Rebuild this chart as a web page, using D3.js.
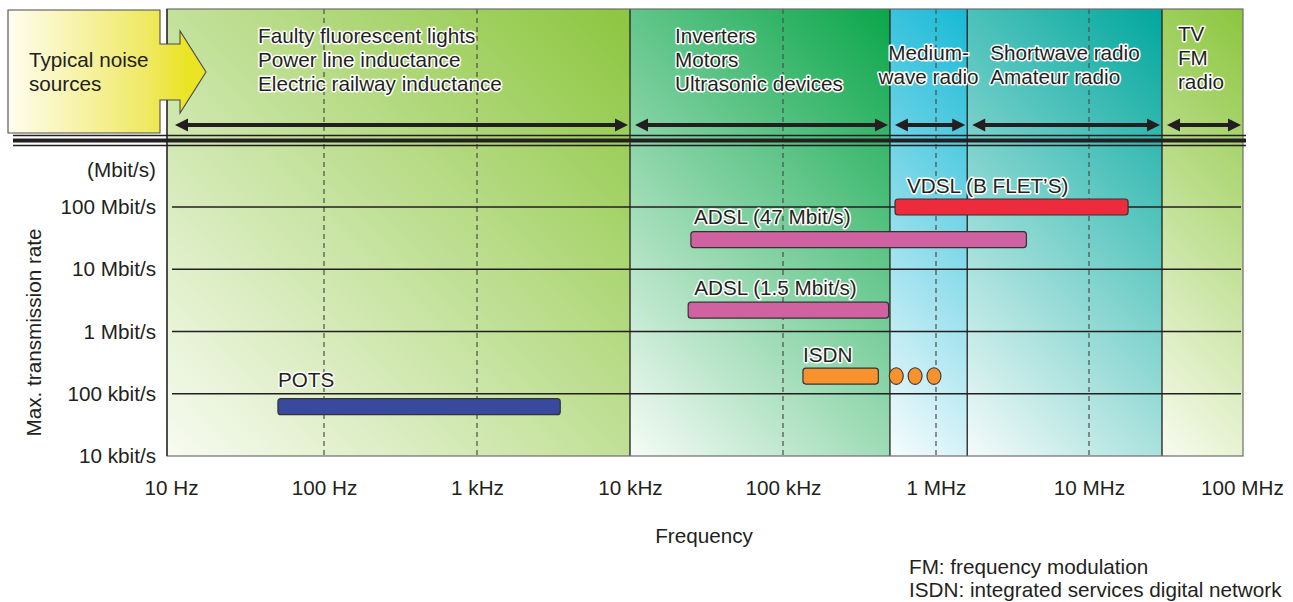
<!DOCTYPE html>
<html lang="en">
<head>
<meta charset="UTF-8">
<title>Noise sources and transmission rates</title>
<script src="https://cdnjs.cloudflare.com/ajax/libs/d3/7.8.5/d3.min.js"></script>
<style>
body{margin:0;background:#fff}
svg text{font-family:"Liberation Sans",Arial,Helvetica,sans-serif;font-size:20.7px;fill:#231f20}
.halo{stroke:#fff;stroke-width:3px;stroke-linejoin:round;paint-order:stroke}
</style>
</head>
<body>
<div id="root"></div>
<script>
// noise bands (Hz) and what lives in them
let bandEdges = [10, 1e4, 5e5, 1.6e6, 3e7, 1e8]
let bandLabels = [
    ["Faulty fluorescent lights", "Power line inductance", "Electric railway inductance"],
    ["Inverters", "Motors", "Ultrasonic devices"],
    ["Medium-", "wave radio"],
    ["Shortwave radio", "Amateur radio"],
    ["TV", "FM", "radio"]
]

// transmission systems: frequency span (Hz) and max rate (bit/s)
let sysNames = ["POTS", "ISDN", "ADSL (1.5 Mbit/s)", "ADSL (47 Mbit/s)", "VDSL (B FLET\u2019S)"]
let sysFreqFrom = [50, 1.35e5, 2.4e4, 2.5e4, 5.4e5]
let sysFreqTo = [3.5e3, 4.2e5, 4.9e5, 3.9e6, 1.8e7]
let sysRate = [6.2e4, 1.92e5, 2.2e6, 3.0e7, 1e8]
let isdnDots = [5.5e5, 7.3e5, 9.7e5]

let freqTicks = [10, 100, 1e3, 1e4, 1e5, 1e6, 1e7, 1e8]
let freqTickLabels = ["10 Hz", "100 Hz", "1 kHz", "10 kHz", "100 kHz", "1 MHz", "10 MHz", "100 MHz"]
let rateTicks = [1e4, 1e5, 1e6, 1e7, 1e8]
let rateTickLabels = ["10 kbit/s", "100 kbit/s", "1 Mbit/s", "10 Mbit/s", "100 Mbit/s"]
let dashedFreqs = [100, 1e3, 1e5, 1e6, 1e7]

// styles / layout
let bandTop = ["#8cc63f", "#0aa64a", "#17b9d6", "#00a79d", "#8cc63f"]
let bandBottom = ["#f8fbf2", "#f6fbf6", "#f7fcfd", "#f5fbfa", "#f8fbef"]
let sysColors = ["#394a9e", "#f7922f", "#d062a2", "#d062a2", "#ee2b3d"]
let sysLabelDx = [0, 0, 6, 3, 12], sysLabelDy = [-12, -6, -7, -8, -6]
let bandTextDx = [91, 45, null, 23, 16], bandTextY = [43, 43, 60, 60, 41]
let ink = "#231f20"

let width = 1293, height = 602, plotTop = 9, plotBottom = 456, barH = 16
let svg = d3.select("#root").append("svg").attr("width", width).attr("height", height)

let x = d3.scaleLog().domain([10, 1e8]).range([171, 1242])
let y = d3.scaleLog().domain([1e4, 1e8]).range([plotBottom, 207])
let plotLeft = x(10) - 4, plotRight = x(1e8) + 1
let bx = function (i) { return i == 0 ? plotLeft : (i == bandEdges.length - 1 ? plotRight : x(bandEdges[i])) }

// 45 degree gradients, pale at bottom-left, saturated at top-right
let defs = svg.append("defs")
bandTop.forEach(function (c, i) {
    let x0 = bx(i), s = (bx(i + 1) - x0 + plotBottom - plotTop) / 2
    let g = defs.append("linearGradient").attr("id", "band" + i).attr("gradientUnits", "userSpaceOnUse")
        .attr("x1", x0).attr("y1", plotBottom).attr("x2", x0 + s).attr("y2", plotBottom - s)
    g.append("stop").attr("offset", 0).attr("stop-color", bandBottom[i])
    g.append("stop").attr("offset", 1).attr("stop-color", c)
})
let sg = defs.append("linearGradient").attr("id", "srcGrad")
sg.append("stop").attr("offset", 0).attr("stop-color", "#fffdf0")
sg.append("stop").attr("offset", 0.7).attr("stop-color", "#efe964")
sg.append("stop").attr("offset", 0.9).attr("stop-color", "#ebe425")

// band backgrounds
svg.append("g").selectAll("rect").data(bandLabels).join("rect")
    .attr("x", (d, i) => bx(i)).attr("y", plotTop)
    .attr("width", (d, i) => bx(i + 1) - bx(i)).attr("height", plotBottom - plotTop)
    .attr("fill", (d, i) => "url(#band" + i + ")")

// dashed decade lines
svg.append("g").selectAll("line").data(dashedFreqs).join("line")
    .attr("x1", d => x(d)).attr("x2", d => x(d)).attr("y1", plotTop).attr("y2", plotBottom)
    .attr("stroke", "#4d4d4d").attr("stroke-width", 1.2).attr("stroke-dasharray", "5,4")

// band boundaries
svg.append("g").selectAll("line").data(bandEdges.slice(1, -1)).join("line")
    .attr("x1", d => x(d)).attr("x2", d => x(d)).attr("y1", plotTop).attr("y2", plotBottom)
    .attr("stroke", ink).attr("stroke-width", 1.3)

// horizontal grid
svg.append("g").selectAll("line").data(rateTicks.slice(1)).join("line")
    .attr("x1", plotLeft + 5).attr("x2", plotRight - 2).attr("y1", d => y(d)).attr("y2", d => y(d))
    .attr("stroke", ink).attr("stroke-width", 1.3)

// frame
svg.append("rect").attr("x", plotLeft).attr("y", plotTop).attr("width", plotRight - plotLeft)
    .attr("height", plotBottom - plotTop).attr("fill", "none").attr("stroke", "#6d6d6d").attr("stroke-width", 1.2)
svg.append("line").attr("x1", plotLeft).attr("x2", plotLeft).attr("y1", plotTop).attr("y2", plotBottom)
    .attr("stroke", ink).attr("stroke-width", 1.3)

// triple separator
;[[135.5, 1.3], [140.5, 4], [145.5, 1.3]].forEach(function (s) {
    svg.append("line").attr("x1", 13).attr("x2", plotRight + 3).attr("y1", s[0]).attr("y2", s[0])
        .attr("stroke", ink).attr("stroke-width", s[1])
})

// double arrows for each band
function dblArrow(x0, x1, yy) {
    let h = 13, w = 6.5
    svg.append("line").attr("x1", x0 + h - 1).attr("x2", x1 - h + 1).attr("y1", yy).attr("y2", yy)
        .attr("stroke", ink).attr("stroke-width", 4)
    svg.append("path").attr("fill", ink)
        .attr("d", `M${x0},${yy}L${x0 + h},${yy - w}L${x0 + h},${yy + w}Z M${x1},${yy}L${x1 - h},${yy - w}L${x1 - h},${yy + w}Z`)
}
bandLabels.forEach(function (d, i) {
    dblArrow(bx(i) + (i == 0 ? 8 : 5), bx(i + 1) - 2, 125)
})

// "Typical noise sources" box with arrow
svg.append("path").attr("d", "M8,10H160V44H180V31L206,72L180,113V100H160V133H8Z")
    .attr("fill", "url(#srcGrad)").attr("stroke", "#4a4a4a").attr("stroke-width", 1.1)
svg.append("text").attr("x", 29).attr("y", 67).text("Typical noise")
svg.append("text").attr("x", 29).attr("y", 91).text("sources")

// band texts
bandLabels.forEach(function (lines, i) {
    let mid = bandTextDx[i] == null
    let tx = mid ? (bx(i) + bx(i + 1)) / 2 : bx(i) + bandTextDx[i]
    lines.forEach(function (t, j) {
        svg.append("text").attr("class", "halo").attr("x", tx).attr("y", bandTextY[i] + j * 24)
            .attr("text-anchor", mid ? "middle" : "start").text(t)
    })
})

// system bars
svg.append("g").selectAll("rect").data(sysNames).join("rect")
    .attr("x", (d, i) => x(sysFreqFrom[i])).attr("y", (d, i) => y(sysRate[i]) - barH / 2)
    .attr("width", (d, i) => x(sysFreqTo[i]) - x(sysFreqFrom[i])).attr("height", barH)
    .attr("rx", 3).attr("fill", (d, i) => sysColors[i]).attr("stroke", "#333").attr("stroke-width", 1.2)

svg.append("g").selectAll("ellipse").data(isdnDots).join("ellipse")
    .attr("cx", d => x(d)).attr("cy", y(sysRate[1])).attr("rx", 7).attr("ry", 8.3)
    .attr("fill", sysColors[1]).attr("stroke", "#333").attr("stroke-width", 1.1)

svg.append("g").selectAll("text").data(sysNames).join("text").attr("class", "halo")
    .attr("x", (d, i) => x(sysFreqFrom[i]) + sysLabelDx[i])
    .attr("y", (d, i) => y(sysRate[i]) - barH / 2 + sysLabelDy[i])
    .text(d => d)

// axes
let xAxis = d3.axisBottom(x).tickValues(freqTicks).tickFormat((d, i) => freqTickLabels[i]).tickSize(0).tickPadding(24)
svg.append("g").attr("transform", "translate(0," + plotBottom + ")").call(xAxis)
    .call(g => g.select(".domain").remove())

let yAxis = d3.axisLeft(y).tickValues(rateTicks).tickFormat((d, i) => rateTickLabels[i]).tickSize(0).tickPadding(11)
svg.append("g").attr("transform", "translate(" + plotLeft + ",0)").call(yAxis)
    .call(g => g.select(".domain").remove())

svg.append("text").attr("x", plotLeft - 11).attr("y", y(1e8) - 37).attr("dy", "0.32em")
    .attr("text-anchor", "end").text("(Mbit/s)")

svg.append("text").attr("x", (plotLeft + plotRight) / 2 - 1).attr("y", 543)
    .attr("text-anchor", "middle").text("Frequency")
svg.append("text").attr("transform", "translate(41," + (y(1e6) + 1) + ") rotate(-90)")
    .attr("text-anchor", "middle").text("Max. transmission rate")

svg.append("text").attr("x", 909).attr("y", 574).text("FM: frequency modulation")
svg.append("text").attr("x", 909).attr("y", 597).text("ISDN: integrated services digital network")
</script>
</body>
</html>
